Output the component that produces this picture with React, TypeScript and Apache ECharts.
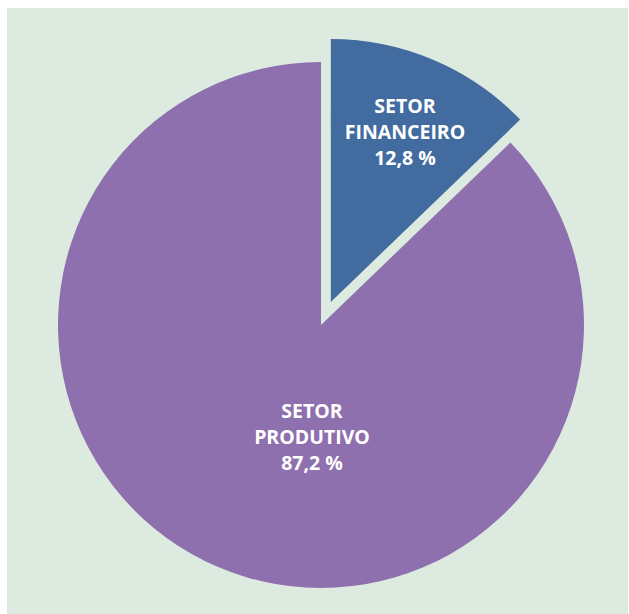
import React, { useEffect, useRef } from "react";
import * as echarts from "echarts";

const categories = ["SETOR\nFINANCEIRO", "SETOR\nPRODUTIVO"];
const shares = [12.8, 87.2];
const colors = ["#426c9f", "#8e70ae"];
const labelPositions = [
  [405, 131],
  [312, 436],
];

export default function App() {
  const ref = useRef<HTMLDivElement>(null);
  useEffect(() => {
    if (!ref.current) return;
    const chart = echarts.init(ref.current, null, { renderer: "svg" });
    const labels = categories.map((c, i) => ({
      type: "text",
      z: 100,
      silent: true,
      x: labelPositions[i][0],
      y: labelPositions[i][1],
      style: {
        text: `${c}\n${String(shares[i]).replace(".", ",")} %`,
        fill: "#ffffff",
        fontFamily: "Open Sans",
        fontWeight: "bold",
        fontSize: 19.5,
        lineHeight: 26,
        align: "center",
        verticalAlign: "middle",
      },
    }));
    chart.setOption({
      animation: false,
      backgroundColor: "#ffffff",
      graphic: [
        {
          type: "rect",
          z: -10,
          silent: true,
          shape: { x: 7, y: 8, width: 621, height: 606 },
          style: { fill: "#ddeae0" },
        },
        ...labels,
      ],
      series: [
        {
          type: "pie",
          center: [321, 325],
          radius: [0, 263],
          startAngle: 90,
          clockwise: true,
          selectedMode: "single",
          selectedOffset: 25,
          labelLine: { show: false },
          emphasis: { disabled: true },
          label: { show: false },
          data: categories.map((c, i) => ({
            name: c,
            value: shares[i],
            selected: i === 0,
            itemStyle: { color: colors[i] },
          })),
        },
      ],
    });
    return () => chart.dispose();
  }, []);
  return (
    <div
      ref={ref}
      style={{ position: "fixed", left: 0, top: 0, width: 629, height: 614 }}
    />
  );
}
